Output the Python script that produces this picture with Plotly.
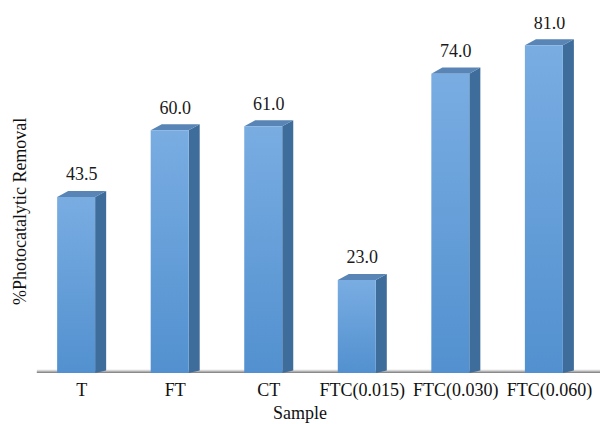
import plotly.graph_objects as go

categories = ["T", "FT", "CT", "FTC(0.015)", "FTC(0.030)", "FTC(0.060)"]
removal = [43.5, 60.0, 61.0, 23.0, 74.0, 81.0]

FONT = "Liberation Serif, Times New Roman, serif"
W = 0.406      # front face width (x units)
DX = 0.118     # depth offset in x
DY = 1.5       # depth offset in y

fig = go.Figure()

for i, v in enumerate(removal):
    x0, x1 = i - W / 2, i + W / 2
    # side face
    fig.add_trace(go.Scatter(
        x=[x1, x1 + DX, x1 + DX, x1, x1], y=[0, DY * 0.4, v + DY, v, 0],
        fill="toself", mode="lines", line=dict(width=0),
        fillcolor="#3f6d9b", hoverinfo="skip", showlegend=False))
    # top face
    fig.add_trace(go.Scatter(
        x=[x0, x0 + DX, x1 + DX, x1, x0], y=[v, v + DY, v + DY, v, v],
        fill="toself", mode="lines", line=dict(width=0),
        fillcolor="#5985b6", hoverinfo="skip", showlegend=False))
    # front face with vertical gradient
    fig.add_trace(go.Scatter(
        x=[x0, x1, x1, x0, x0], y=[0, 0, v, v, 0],
        fill="toself", mode="lines", line=dict(width=0),
        fillgradient=dict(type="vertical",
                          colorscale=[[0, "#5290cf"], [1, "#79ade2"]]),
        hoverinfo="skip", showlegend=False))

# value labels
fig.add_trace(go.Scatter(
    x=[i + DX / 2 for i in range(len(removal))],
    y=[v + DY + 1.5 for v in removal],
    text=[f"{v:.1f}" for v in removal],
    mode="text", textposition="top center",
    textfont=dict(family=FONT, size=18, color="#1a1a1a"),
    hoverinfo="skip", showlegend=False))

# floor shadow
fig.add_shape(type="line", xref="x", yref="y", x0=-0.42, x1=5.75, y0=-0.2, y1=-0.2,
              line=dict(color="#d6d6d6", width=8), layer="below")
fig.add_shape(type="line", xref="x", yref="y", x0=-0.42, x1=5.75, y0=0, y1=0,
              line=dict(color="#8a8a8a", width=3), layer="below")

fig.update_layout(
    width=615, height=424,
    margin=dict(l=20, r=15, t=17, b=51),
    paper_bgcolor="white", plot_bgcolor="white",
    xaxis=dict(range=[-0.6, 5.6], showgrid=False, zeroline=False, showline=False,
               tickmode="array",
               tickvals=[i + DX / 2 for i in range(len(categories))],
               ticktext=categories, ticks="", ticklabelstandoff=4,
               tickfont=dict(family=FONT, size=18, color="#111")),
    yaxis=dict(range=[0, 88], showgrid=False, zeroline=False, showline=False,
               showticklabels=False, ticks=""),
    annotations=[
        dict(text="%Photocatalytic Removal", xref="paper", yref="paper",
             x=0, y=0.452, xanchor="center", yanchor="middle", textangle=-90,
             showarrow=False, font=dict(family=FONT, size=18, color="#111")),
        dict(text="Sample", xref="paper", yref="paper",
             x=0.483, y=-0.113, xanchor="center", yanchor="middle",
             showarrow=False, font=dict(family=FONT, size=18, color="#111")),
    ],
)

fig.write_html("out.html")
